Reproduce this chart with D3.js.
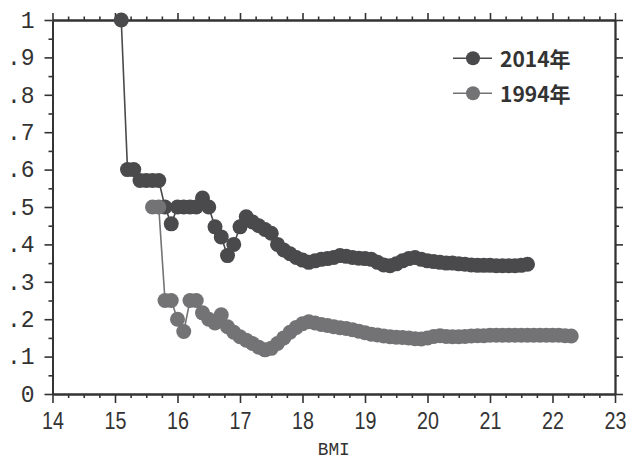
<!DOCTYPE html>
<html><head><meta charset="utf-8">
<script src="https://cdn.jsdelivr.net/npm/d3@7/dist/d3.min.js"></script>
<style>
html,body{margin:0;padding:0;background:#fff;}
svg{display:block;}
</style>
</head><body>
<svg id="c" width="635" height="461"></svg>
<script>
const seriesNames = ["2014年", "1994年"];
const seriesColors = ["#4a4a4c", "#737376"];

const bmi2014 = [15.1,15.2,15.3,15.4,15.5,15.6,15.7,15.8,15.9,16.0,16.1,16.2,16.3,16.4,16.5,16.6,16.7,16.8,16.9,17.0,
  17.1,17.2,17.3,17.4,17.5,17.6,17.7,17.8,17.9,18.0,18.1,18.2,18.3,18.4,18.5,18.6,18.7,18.8,18.9,19.0,
  19.1,19.2,19.3,19.4,19.5,19.6,19.7,19.8,19.9,20.0,20.1,20.2,20.3,20.4,20.5,20.6,20.7,20.8,20.9,21.0,
  21.1,21.2,21.3,21.4,21.5,21.6];
const val2014 = [1.0,0.6,0.6,0.571,0.571,0.571,0.571,0.5,0.455,0.5,0.5,0.5,0.5,0.524,0.5,0.447,0.42,0.37,0.40,0.447,
  0.474,0.46,0.45,0.44,0.43,0.40,0.385,0.375,0.365,0.358,0.352,0.356,0.36,0.362,0.365,0.37,0.368,0.365,0.363,0.362,
  0.36,0.352,0.345,0.343,0.348,0.356,0.362,0.365,0.36,0.356,0.354,0.352,0.35,0.35,0.348,0.347,0.345,0.344,0.344,0.344,
  0.343,0.343,0.343,0.343,0.344,0.347];

const bmi1994 = [15.6,15.7,15.8,15.9,16.0,16.1,16.2,16.3,16.4,16.5,16.6,16.7,16.8,16.9,17.0,17.1,17.2,17.3,17.4,17.5,
  17.6,17.7,17.8,17.9,18.0,18.1,18.2,18.3,18.4,18.5,18.6,18.7,18.8,18.9,19.0,19.1,19.2,19.3,19.4,19.5,
  19.6,19.7,19.8,19.9,20.0,20.1,20.2,20.3,20.4,20.5,20.6,20.7,20.8,20.9,21.0,21.1,21.2,21.3,21.4,21.5,
  21.6,21.7,21.8,21.9,22.0,22.1,22.2,22.3];
const val1994 = [0.5,0.5,0.25,0.25,0.2,0.167,0.25,0.25,0.217,0.2,0.19,0.212,0.18,0.165,0.153,0.144,0.135,0.125,0.118,0.122,
  0.135,0.15,0.165,0.178,0.188,0.193,0.19,0.186,0.183,0.18,0.177,0.175,0.172,0.168,0.164,0.16,0.158,0.155,0.153,0.152,
  0.151,0.15,0.148,0.147,0.15,0.154,0.156,0.154,0.153,0.153,0.154,0.155,0.156,0.156,0.157,0.157,0.157,0.157,0.157,0.157,
  0.157,0.157,0.157,0.157,0.157,0.157,0.156,0.155];

const xTicks = [14,15,16,17,18,19,20,21,22,23];
const xMinor = [14.25,14.5,14.75,15.25,15.5,15.75,16.25,16.5,16.75,17.25,17.5,17.75,18.25,18.5,18.75,19.25,19.5,19.75,20.25,20.5,20.75,21.25,21.5,21.75,22.25,22.5,22.75];
const yTicks = [0,0.1,0.2,0.3,0.4,0.5,0.6,0.7,0.8,0.9,1];
const yTickLabels = ["0",".1",".2",".3",".4",".5",".6",".7",".8",".9","1"];
const yMinor = [0.05,0.15,0.25,0.35,0.45,0.55,0.65,0.75,0.85,0.95];
const xTitle = "BMI";

const svg = d3.select("#c");
const L = 52.5, R = 615, T = 20, B = 394;
const x = d3.scaleLinear().domain([14,23]).range([L,R]);
const y = d3.scaleLinear().domain([0,1]).range([B,T]);
const axisColor = "#333";

function styleAxis(g){
  g.selectAll("path.domain").attr("stroke", axisColor).attr("stroke-width", 1.8);
  g.selectAll(".tick line").attr("stroke", axisColor).attr("stroke-width", 1.6);
}
function compress(g, f){
  g.selectAll("text").each(function(){
    const w = this.getComputedTextLength();
    d3.select(this).attr("textLength", w*f).attr("lengthAdjust","spacingAndGlyphs");
  });
}

// bottom
const gb = svg.append("g").attr("transform",`translate(0,${B})`)
  .call(d3.axisBottom(x).tickValues(xTicks).tickSize(9).tickSizeOuter(0).tickPadding(8.7).tickFormat(d3.format("d")));
gb.selectAll("text").attr("font-family","Liberation Sans, Arial, sans-serif").attr("font-size",24).attr("fill","#333");
styleAxis(gb); compress(gb, 0.82);
const gbm = svg.append("g").attr("transform",`translate(0,${B})`)
  .call(d3.axisBottom(x).tickValues(xMinor).tickSize(4).tickSizeOuter(0).tickFormat(""));
styleAxis(gbm);

// top
const gt = svg.append("g").attr("transform",`translate(0,${T})`)
  .call(d3.axisTop(x).tickValues(xTicks).tickSize(7).tickSizeOuter(0).tickFormat(""));
styleAxis(gt);
const gtm = svg.append("g").attr("transform",`translate(0,${T})`)
  .call(d3.axisTop(x).tickValues(xMinor).tickSize(3.5).tickSizeOuter(0).tickFormat(""));
styleAxis(gtm);

// left
const gl = svg.append("g").attr("transform",`translate(${L},0)`)
  .call(d3.axisLeft(y).tickValues(yTicks).tickSize(8).tickSizeOuter(0).tickPadding(10)
    .tickFormat((d,i)=>yTickLabels[i]));
gl.selectAll("text").attr("font-family","Liberation Mono, DejaVu Sans Mono, monospace").attr("font-size",23).attr("fill","#333");
styleAxis(gl);
const glm = svg.append("g").attr("transform",`translate(${L},0)`)
  .call(d3.axisLeft(y).tickValues(yMinor).tickSize(4).tickSizeOuter(0).tickFormat(""));
styleAxis(glm);

// right
const gr = svg.append("g").attr("transform",`translate(${R},0)`)
  .call(d3.axisRight(y).tickValues(yTicks).tickSize(8).tickSizeOuter(0).tickFormat(""));
styleAxis(gr);
const grm = svg.append("g").attr("transform",`translate(${R},0)`)
  .call(d3.axisRight(y).tickValues(yMinor).tickSize(4).tickSizeOuter(0).tickFormat(""));
styleAxis(grm);

// x title
const tt = svg.append("text").attr("x",(L+R)/2).attr("y",455).attr("text-anchor","middle")
  .attr("font-family","Liberation Mono, DejaVu Sans Mono, monospace").attr("font-size",19).attr("fill","#333").text(xTitle);
tt.attr("textLength", 32).attr("lengthAdjust","spacingAndGlyphs");

// series
const series = [
  {bmi: bmi2014, val: val2014},
  {bmi: bmi1994, val: val1994}
];
const line = d3.line().x(d=>x(d[0])).y(d=>y(d[1]));
series.forEach((s,si)=>{
  const pts = s.bmi.map((b,i)=>[b, s.val[i]]);
  const g = svg.append("g");
  g.append("path").attr("d", line(pts)).attr("fill","none").attr("stroke", seriesColors[si]).attr("stroke-width",1.6);
  g.selectAll("circle").data(pts).enter().append("circle")
    .attr("cx", d=>x(d[0])).attr("cy", d=>y(d[1])).attr("r",7.5).attr("fill", seriesColors[si]);
});

// legend
const legY = [58.3, 93.3];
seriesNames.forEach((n,i)=>{
  const g = svg.append("g");
  g.append("line").attr("x1",453).attr("x2",492).attr("y1",legY[i]).attr("y2",legY[i])
    .attr("stroke", seriesColors[i]).attr("stroke-width",1.6);
  g.append("circle").attr("cx",473).attr("cy",legY[i]).attr("r",7).attr("fill",seriesColors[i]);
  g.append("text").attr("x",500).attr("y",legY[i]+8.5).attr("font-family","Noto Sans CJK JP, Noto Sans, sans-serif")
    .attr("font-weight","bold").attr("font-size",21).attr("fill","#333").text(n);
});
</script>
</body></html>
